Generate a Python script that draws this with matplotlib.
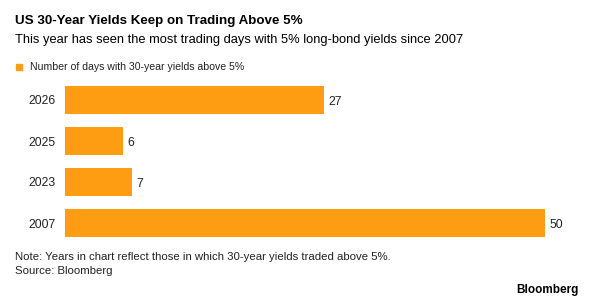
import matplotlib
matplotlib.use("Agg")
import matplotlib.pyplot as plt
from matplotlib.patches import Rectangle

years = ["2026", "2025", "2023", "2007"]
days = [27, 6, 7, 50]
series_label = "Number of days with 30-year yields above 5%"

ORANGE = "#FF9D12"
W, H = 600, 306

plt.rcParams["font.family"] = ["Liberation Sans", "DejaVu Sans"]

fig = plt.figure(figsize=(6, 3.06), dpi=100)

def fx(px):
    return px / W

def fy(px):
    return 1 - px / H

fig.text(fx(15), fy(21), "US 30-Year Yields Keep on Trading Above 5%",
         fontsize=9.6, fontweight="bold", va="center", ha="left", color="#000000")
fig.text(fx(15), fy(40), "This year has seen the most trading days with 5% long-bond yields since 2007",
         fontsize=9.3, va="center", ha="left", color="#000000")

# legend
fig.patches.append(Rectangle((fx(16), fy(70)), fx(6), 6 / H, color=ORANGE,
                             transform=fig.transFigure, figure=fig))
fig.text(fx(30), fy(66.5), series_label, fontsize=7.6, va="center", ha="left", color="#222222")

ax = fig.add_axes([fx(65), fy(243.5), fx(480), 164 / H])
pos = list(range(len(years)))
ax.barh(pos, days, height=28 / 41, color=ORANGE)
ax.set_xlim(0, 50)
ax.set_ylim(3.5, -0.5)
ax.set_yticks(pos)
ax.set_yticklabels(years, fontsize=8.7, color="#222222")
ax.tick_params(axis="y", length=0, pad=7)
ax.set_xticks([])
for s in ax.spines.values():
    s.set_visible(False)
for p, d in zip(pos, days):
    ax.text(d + 0.45, p + 0.04, str(d), fontsize=8.7, va="center", ha="left",
            color="#222222", clip_on=False)

fig.text(fx(15), fy(257), "Note: Years in chart reflect those in which 30-year yields traded above 5%.",
         fontsize=8.2, va="center", ha="left", color="#222222")
fig.text(fx(15), fy(271), "Source: Bloomberg", fontsize=8.2, va="center", ha="left", color="#222222")
fig.text(fx(579), fy(290), "Bloomberg", fontsize=8.5, fontweight="bold",
         va="center", ha="right", color="#000000")

fig.savefig("out.png", dpi=100, facecolor="white")
